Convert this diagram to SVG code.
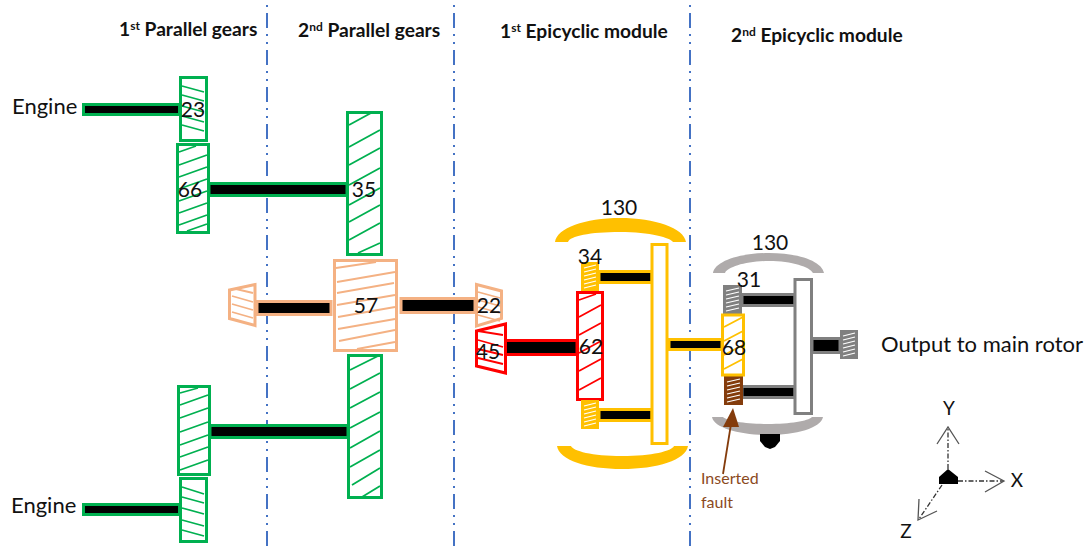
<svg xmlns="http://www.w3.org/2000/svg" width="1092" height="555" viewBox="0 0 1092 555">
<style>
text{font-family:"Lato","Open Sans","Liberation Sans",sans-serif;fill:#111}
.t{font-size:19.2px;font-weight:700}
.n{font-size:21px;text-anchor:middle}
.l{font-size:22px}
.a{font-size:19px;text-anchor:middle}
.f{font-size:16px;fill:#8B4A1E}
.g{fill:#fff;stroke-width:3}
.h{fill:none;stroke-width:1.8}
.gr{stroke:#00B050}.pe{stroke:#F4B183}.re{stroke:#FF0000}.go{stroke:#FFC000}.gy{stroke:#808080}.br{stroke:#843C0C}
.sh{fill:#000;stroke-width:3}
.guide{stroke:#4472C4;stroke-width:2;stroke-dasharray:15 6 2 6 2 6;fill:none}
.w{fill:none;stroke:#fff;stroke-width:1.2}
.ax{fill:none;stroke:#555;stroke-width:1.3}
.axd{fill:none;stroke:#333;stroke-width:1.3;stroke-dasharray:5 2 1.5 2}
</style>
<g id="guides">
<line class="guide" x1="267" y1="-24" x2="267" y2="552"/>
<line class="guide" x1="454" y1="-24" x2="454" y2="552"/>
<line class="guide" x1="690" y1="-24" x2="690" y2="552"/>
</g>
<g id="connectors">
<rect class="sh gr" x="83.500" y="104.500" width="96" height="10"/>
<rect class="sh gr" x="209" y="183.500" width="138" height="12"/>
<rect class="sh gr" x="210" y="425.500" width="138" height="12"/>
<rect class="sh gr" x="83.500" y="504.500" width="96" height="10"/>
<rect class="sh pe" x="257" y="301.500" width="74" height="13"/>
<rect class="sh pe" x="401" y="298.500" width="74" height="14"/>
<rect class="sh re" x="505" y="340.500" width="72" height="14"/>
<rect class="sh go" x="599" y="271.500" width="53" height="11"/>
<rect class="sh go" x="599" y="409.500" width="53" height="11"/>
<rect class="sh go" x="669" y="339.500" width="53" height="10"/>
<rect class="sh gy" x="742" y="294.500" width="53" height="11"/>
<rect class="sh gy" x="742" y="386.500" width="53" height="11"/>
<rect class="sh gy" x="812" y="338.500" width="28" height="14"/>
</g>
<g id="gear-23-top">
<rect class="g gr" x="180.500" y="77.500" width="26" height="63"/>
<path class="h gr" d="M182 86L204 92M182 95L204 101M182 106L204 112M182 116L204 122M182 125L204 131"/>
<text class="n" x="193" y="117">23</text>
</g>
<g id="gear-66-top">
<rect class="g gr" x="177.500" y="144.500" width="31" height="88"/>
<path class="h gr" d="M179 152L196 146M179 165L207 155M179 177L207 167M179 189L207 179M179 201L207 191M179 213L207 203M179 225L207 215M187 231L207 224"/>
<text class="n" x="190" y="197">66</text>
</g>
<g id="gear-35-top">
<rect class="g gr" x="347.500" y="112.500" width="34" height="142"/>
<path class="h gr" d="M349 125L371 113M349 147L380 130M349 165L380 148M349 185L380 168M349 205L380 188M349 222L380 205M349 240L380 223M358 253L380 243"/>
<text class="n" x="364" y="197">35</text>
</g>
<g id="gear-66-bottom">
<rect class="g gr" x="178.500" y="386.500" width="31" height="88"/>
<path class="h gr" d="M180 393L198 388M180 405L208 395M180 418L208 408M180 432L208 422M180 445L208 435M180 457L208 447M180 470L208 460"/>
</g>
<g id="gear-35-bottom">
<rect class="g gr" x="348.500" y="355.500" width="33" height="142"/>
<path class="h gr" d="M350 370L380 355M350 389L380 373M350 408L380 392M350 428L380 412M350 448L380 431M350 467L380 450M352 485L380 468M362 497L380 486"/>
</g>
<g id="gear-23-bottom">
<rect class="g gr" x="180.500" y="478.500" width="26" height="63"/>
<path class="h gr" d="M182 487L204 494M182 497L204 503M182 508L204 514M182 520L204 526M182 530L204 536"/>
</g>
<g id="gear-57">
<rect class="g pe" x="334.500" y="260.500" width="62" height="90"/>
<path class="h pe" d="M336 268L376 262M337 282L395 272M337 293L394 283M337 305L395 295M338 317L395 307M338 329L395 319M339 341L395 330M357 349L395 342"/>
<text class="n" x="366" y="313">57</text>
</g>
<g id="bevel-left">
<path class="g pe" d="M229.500 290L255 284.500V325.500L229.500 318.500Z"/>
<path class="h pe" d="M236 289L253 293M232 296L253 302M232 304L253 310M232 312L253 318"/>
</g>
<g id="bevel-22">
<path class="g pe" d="M476.500 284.500L501.500 291V318.500L476.500 326Z"/>
<path class="h pe" d="M478 292L500 298M478 300L500 306M478 307L500 313M478 315L500 321"/>
<text class="n" x="489" y="313">22</text>
</g>
<g id="bevel-45">
<path class="g re" d="M476.500 331L505.500 324V373L476.500 366Z"/>
<path class="h re" d="M478 331L503 335M478 340L503 347M478 349L503 355M478 358L503 364"/>
<text class="n" x="488" y="359">45</text>
</g>
<g id="gear-62">
<rect class="g re" x="577.500" y="292.500" width="25" height="107"/>
<path class="h re" d="M579 300L596 294M579 317L601 305M579 335L601 323M579 353L601 341M579 371L601 359M579 390L601 378"/>
<text class="n" x="591" y="354">62</text>
</g>
<g id="gear-34-top">
<rect x="581" y="262" width="18" height="29" fill="#FFC000"/>
<path class="w" d="M584 268L596 265M584 272L596 269M584 276L596 273M584 280L596 277M584 284L596 281M584 288L596 285"/>
<text class="n" x="590" y="264">34</text>
</g>
<g id="gear-34-bottom">
<rect x="581" y="400" width="18" height="29" fill="#FFC000"/>
<path class="w" d="M584 406L596 403M584 410L596 407M584 414L596 411M584 418L596 415M584 422L596 419M584 426L596 423"/>
</g>
<g id="carrier-1">
<rect class="g go" x="652" y="244.500" width="15" height="199" stroke-width="2.500"/>
</g>
<g id="ring-130-1">
<path fill="#FFC000" d="M555 242C557 228 585 218 620 218C655 218 684 228 686 242H673C671 238 650 232 620 232C590 232 570 236 568 242Z"/>
<path fill="#FFC000" d="M557 446C559 460 587 469 622 469C657 469 686 460 688 446H674C672 451 652 456 622 456C592 456 573 451 571 446Z"/>
<text class="n" x="619" y="215">130</text>
</g>
<g id="ring-130-2">
<path fill="#AFABAB" d="M713 273C715 261 740 253 769 253C798 253 822 261 824 273H813C810 267 792 261 769 261C746 261 728 267 725 273Z"/>
<path fill="#AFABAB" d="M712 417C714 428 740 435 768 435C796 435 821 428 823 417H812C808 421 790 424 768 424C746 424 727 421 723 417Z"/>
<path fill="#000" d="M760 434H780V441L775 447L770 449L765 447L760 441Z"/>
<text class="n" x="770" y="250">130</text>
</g>
<g id="gear-31">
<rect x="723" y="285" width="19" height="29" fill="#808080"/>
<path class="w" d="M726 291L739 288M726 295L739 292M726 299L739 296M726 303L739 300M726 307L739 304M726 311L739 308"/>
<text class="n" x="749" y="287">31</text>
</g>
<g id="gear-fault">
<rect x="724" y="376" width="19" height="29" fill="#843C0C"/>
<path class="w" d="M727 382L740 379M727 386L740 383M727 390L740 387M727 394L740 391M727 398L740 395M727 402L740 399"/>
</g>
<g id="gear-68">
<rect class="g go" x="722.500" y="315" width="21" height="60"/>
<path class="h go" d="M724 327L743 317M724 341L743 331M724 355L743 345M724 369L743 359"/>
<text class="n" x="734" y="355">68</text>
</g>
<g id="carrier-2">
<rect class="g gy" x="795" y="279.500" width="16.500" height="134" stroke-width="2.500"/>
</g>
<g id="gear-output">
<rect x="840" y="330" width="18" height="29" fill="#808080"/>
<path class="w" d="M843 336L855 333M843 340L855 337M843 344L855 341M843 348L855 345M843 352L855 349M843 356L855 353"/>
</g>
<g id="fault-arrow">
<path fill="#843C0C" d="M733 408L723 427L739 427Z"/>
<line x1="723" y1="474" x2="731" y2="424" stroke="#843C0C" stroke-width="1.8"/>
</g>
<g id="axes">
<path class="axd" d="M948 469V428M958 481H1003M942 485L919 519"/>
<path class="ax" d="M937 444L948 427L959 444M985 471L1004 481L985 492M919 499L918 520L937 511"/>
<path fill="#000" d="M939 484H958V477L948 469L939 477Z"/>
<text class="a" x="949" y="415">Y</text>
<text class="a" x="1017" y="487">X</text>
<text class="a" x="906" y="538">Z</text>
</g>
<g id="labels">
<text class="t" x="119" y="36">1<tspan font-size="12" dy="-6">st</tspan><tspan dy="6"> Parallel gears</tspan></text>
<text class="t" x="298" y="37">2<tspan font-size="12" dy="-6">nd</tspan><tspan dy="6"> Parallel gears</tspan></text>
<text class="t" x="500" y="38">1<tspan font-size="12" dy="-6">st</tspan><tspan dy="6"> Epicyclic module</tspan></text>
<text class="t" x="731" y="42">2<tspan font-size="12" dy="-6">nd</tspan><tspan dy="6"> Epicyclic module</tspan></text>
<text class="l" x="12" y="114">Engine</text>
<text class="l" x="11" y="513">Engine</text>
<text class="l" x="881" y="352">Output to main rotor</text>
<text class="f" x="701" y="484">Inserted</text>
<text class="f" x="701" y="508">fault</text>
</g>
</svg>
